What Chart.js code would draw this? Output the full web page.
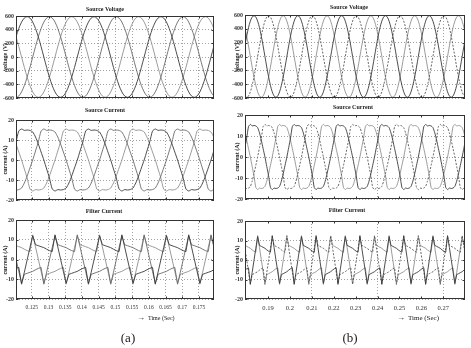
<!DOCTYPE html>
<html>
<head>
<meta charset="utf-8">
<script src="https://cdn.jsdelivr.net/npm/chart.js@4.4.1/dist/chart.umd.min.js"></script>
<style>
  html, body { margin: 0; padding: 0; background: #fff; }
  #fig { position: relative; width: 471px; height: 348px; overflow: hidden;
         font-family: "Liberation Serif", "DejaVu Serif", serif; color: #222; }
  #fig canvas { position: absolute; }
  .t  { position: absolute; font-size: 6px; line-height: 6px; font-weight: bold;
        white-space: nowrap; transform: translateX(-50%); }
  .yl { position: absolute; font-size: 6px; line-height: 6px; font-weight: bold; white-space: nowrap;
        transform: translate(-50%, -50%) rotate(-90deg); }
  .cap { position: absolute; font-size: 13px; line-height: 13px; transform: translateX(-50%); }
  .tm { position: absolute; white-space: nowrap; font-size: 6px; line-height: 8px; }
  .tm b { font-size: 8px; margin-right: 3px; }
</style>
</head>
<body>
<div id="fig">
  <canvas id="aV" width="218" height="94"  style="left:0px;top:10px"></canvas>
  <canvas id="aS" width="218" height="92"  style="left:0px;top:114px"></canvas>
  <canvas id="aF" width="218" height="101" style="left:0px;top:214px"></canvas>
  <canvas id="bV" width="238" height="95"  style="left:231px;top:9px"></canvas>
  <canvas id="bS" width="238" height="96"  style="left:231px;top:109px"></canvas>
  <canvas id="bF" width="238" height="100" style="left:231px;top:215px"></canvas>

  <div class="t" style="left:105px;top:6px">Source Voltage</div>
  <div class="t" style="left:105px;top:107px">Source Current</div>
  <div class="t" style="left:104px;top:208px">Filter Current</div>
  <div class="t" style="left:349px;top:4px">Source Voltage</div>
  <div class="t" style="left:353px;top:104px">Source Current</div>
  <div class="t" style="left:347px;top:207px">Filter Current</div>

  <div class="yl" style="left:5px;top:57px">voltage (V)</div>
  <div class="yl" style="left:5px;top:160px">current (A)</div>
  <div class="yl" style="left:5px;top:260px">current (A)</div>
  <div class="yl" style="left:237px;top:57px">voltage (V)</div>
  <div class="yl" style="left:237px;top:157px">current (A)</div>
  <div class="yl" style="left:237px;top:260px">current (A)</div>

  <div class="tm" style="left:137px;top:314px"><b>&rarr;</b>Time (Sec)</div>
  <div class="tm" style="left:397px;top:314px;font-size:7px"><b>&rarr;</b>Time (Sec)</div>

  <div class="cap" style="left:128px;top:331px">(a)</div>
  <div class="cap" style="left:350px;top:331px">(b)</div>
</div>

<script>
// waveforms sampled every 15 deg of a 50 Hz cycle, starting at 0.119437 s
const SAMPLE_START = 0.119437;
const SAMPLE_STEP = 0.02 / 24;

// source voltage (V), phases a, b, c
const vSa = [
  153,295,417,511,570,590,570,511,417,295,153,0,-153,-295,-417,-511,-570,-590,-570,-511,-417,-295,-153,0,
  153,295,417,511,570,590,570,511,417,295,153,0,-153,-295,-417,-511,-570,-590,-570,-511,-417,-295,-153,0,
  153,295,417,511,570,590,570,511,417,295,153,0,-153,-295,-417,-511,-570,-590,-570,-511,-417,-295,-153,0,
  153,295,417,511,570,590,570,511,417,295,153,0,-153,-295,-417,-511,-570,-590,-570,-511,-417,-295,-153,0,
  153,295,417,511,570,590,570,511,417,295,153,0,-153,-295,-417,-511,-570,-590,-570,-511,-417,-295,-153,0,
  153,295,417,511,570,590,570,511,417,295,153,0,-153,-295,-417,-511,-570,-590,-570,-511,-417,-295,-153,0,
  153,295,417,511,570,590,570,511,417,295,153,0,-153,-295,-417,-511,-570,-590,-570,-511,-417,-295,-153,0,
  153,295,417,511,570,590,570,511,417,295,153,0,-153,-295,-417,-511,-570,-590,-570,-511,-417,-295,-153,0,
  153,295
];
const vSb = [
  -570,-590,-570,-511,-417,-295,-153,0,153,295,417,511,570,590,570,511,417,295,153,0,-153,-295,-417,-511,
  -570,-590,-570,-511,-417,-295,-153,0,153,295,417,511,570,590,570,511,417,295,153,0,-153,-295,-417,-511,
  -570,-590,-570,-511,-417,-295,-153,0,153,295,417,511,570,590,570,511,417,295,153,0,-153,-295,-417,-511,
  -570,-590,-570,-511,-417,-295,-153,0,153,295,417,511,570,590,570,511,417,295,153,0,-153,-295,-417,-511,
  -570,-590,-570,-511,-417,-295,-153,0,153,295,417,511,570,590,570,511,417,295,153,0,-153,-295,-417,-511,
  -570,-590,-570,-511,-417,-295,-153,0,153,295,417,511,570,590,570,511,417,295,153,0,-153,-295,-417,-511,
  -570,-590,-570,-511,-417,-295,-153,0,153,295,417,511,570,590,570,511,417,295,153,0,-153,-295,-417,-511,
  -570,-590,-570,-511,-417,-295,-153,0,153,295,417,511,570,590,570,511,417,295,153,0,-153,-295,-417,-511,
  -570,-590
];
const vSc = [
  417,295,153,0,-153,-295,-417,-511,-570,-590,-570,-511,-417,-295,-153,0,153,295,417,511,570,590,570,511,
  417,295,153,0,-153,-295,-417,-511,-570,-590,-570,-511,-417,-295,-153,0,153,295,417,511,570,590,570,511,
  417,295,153,0,-153,-295,-417,-511,-570,-590,-570,-511,-417,-295,-153,0,153,295,417,511,570,590,570,511,
  417,295,153,0,-153,-295,-417,-511,-570,-590,-570,-511,-417,-295,-153,0,153,295,417,511,570,590,570,511,
  417,295,153,0,-153,-295,-417,-511,-570,-590,-570,-511,-417,-295,-153,0,153,295,417,511,570,590,570,511,
  417,295,153,0,-153,-295,-417,-511,-570,-590,-570,-511,-417,-295,-153,0,153,295,417,511,570,590,570,511,
  417,295,153,0,-153,-295,-417,-511,-570,-590,-570,-511,-417,-295,-153,0,153,295,417,511,570,590,570,511,
  417,295,153,0,-153,-295,-417,-511,-570,-590,-570,-511,-417,-295,-153,0,153,295,417,511,570,590,570,511,
  417,295
];

// source current (A)
const iSa = [
  4.5,9,14.5,15.5,14.8,15,14.8,14,11.5,8,4,0,-4.5,-9,-14.5,-15.5,-14.8,-15,-14.8,-14,-11.5,-8,-4,0,
  4.5,9,14.5,15.5,14.8,15,14.8,14,11.5,8,4,0,-4.5,-9,-14.5,-15.5,-14.8,-15,-14.8,-14,-11.5,-8,-4,0,
  4.5,9,14.5,15.5,14.8,15,14.8,14,11.5,8,4,0,-4.5,-9,-14.5,-15.5,-14.8,-15,-14.8,-14,-11.5,-8,-4,0,
  4.5,9,14.5,15.5,14.8,15,14.8,14,11.5,8,4,0,-4.5,-9,-14.5,-15.5,-14.8,-15,-14.8,-14,-11.5,-8,-4,0,
  4.5,9,14.5,15.5,14.8,15,14.8,14,11.5,8,4,0,-4.5,-9,-14.5,-15.5,-14.8,-15,-14.8,-14,-11.5,-8,-4,0,
  4.5,9,14.5,15.5,14.8,15,14.8,14,11.5,8,4,0,-4.5,-9,-14.5,-15.5,-14.8,-15,-14.8,-14,-11.5,-8,-4,0,
  4.5,9,14.5,15.5,14.8,15,14.8,14,11.5,8,4,0,-4.5,-9,-14.5,-15.5,-14.8,-15,-14.8,-14,-11.5,-8,-4,0,
  4.5,9,14.5,15.5,14.8,15,14.8,14,11.5,8,4,0,-4.5,-9,-14.5,-15.5,-14.8,-15,-14.8,-14,-11.5,-8,-4,0,
  4.5,9
];
const iSb = [
  -14.8,-15,-14.8,-14,-11.5,-8,-4,0,4.5,9,14.5,15.5,14.8,15,14.8,14,11.5,8,4,0,-4.5,-9,-14.5,-15.5,
  -14.8,-15,-14.8,-14,-11.5,-8,-4,0,4.5,9,14.5,15.5,14.8,15,14.8,14,11.5,8,4,0,-4.5,-9,-14.5,-15.5,
  -14.8,-15,-14.8,-14,-11.5,-8,-4,0,4.5,9,14.5,15.5,14.8,15,14.8,14,11.5,8,4,0,-4.5,-9,-14.5,-15.5,
  -14.8,-15,-14.8,-14,-11.5,-8,-4,0,4.5,9,14.5,15.5,14.8,15,14.8,14,11.5,8,4,0,-4.5,-9,-14.5,-15.5,
  -14.8,-15,-14.8,-14,-11.5,-8,-4,0,4.5,9,14.5,15.5,14.8,15,14.8,14,11.5,8,4,0,-4.5,-9,-14.5,-15.5,
  -14.8,-15,-14.8,-14,-11.5,-8,-4,0,4.5,9,14.5,15.5,14.8,15,14.8,14,11.5,8,4,0,-4.5,-9,-14.5,-15.5,
  -14.8,-15,-14.8,-14,-11.5,-8,-4,0,4.5,9,14.5,15.5,14.8,15,14.8,14,11.5,8,4,0,-4.5,-9,-14.5,-15.5,
  -14.8,-15,-14.8,-14,-11.5,-8,-4,0,4.5,9,14.5,15.5,14.8,15,14.8,14,11.5,8,4,0,-4.5,-9,-14.5,-15.5,
  -14.8,-15
];
const iSc = [
  11.5,8,4,0,-4.5,-9,-14.5,-15.5,-14.8,-15,-14.8,-14,-11.5,-8,-4,0,4.5,9,14.5,15.5,14.8,15,14.8,14,
  11.5,8,4,0,-4.5,-9,-14.5,-15.5,-14.8,-15,-14.8,-14,-11.5,-8,-4,0,4.5,9,14.5,15.5,14.8,15,14.8,14,
  11.5,8,4,0,-4.5,-9,-14.5,-15.5,-14.8,-15,-14.8,-14,-11.5,-8,-4,0,4.5,9,14.5,15.5,14.8,15,14.8,14,
  11.5,8,4,0,-4.5,-9,-14.5,-15.5,-14.8,-15,-14.8,-14,-11.5,-8,-4,0,4.5,9,14.5,15.5,14.8,15,14.8,14,
  11.5,8,4,0,-4.5,-9,-14.5,-15.5,-14.8,-15,-14.8,-14,-11.5,-8,-4,0,4.5,9,14.5,15.5,14.8,15,14.8,14,
  11.5,8,4,0,-4.5,-9,-14.5,-15.5,-14.8,-15,-14.8,-14,-11.5,-8,-4,0,4.5,9,14.5,15.5,14.8,15,14.8,14,
  11.5,8,4,0,-4.5,-9,-14.5,-15.5,-14.8,-15,-14.8,-14,-11.5,-8,-4,0,4.5,9,14.5,15.5,14.8,15,14.8,14,
  11.5,8,4,0,-4.5,-9,-14.5,-15.5,-14.8,-15,-14.8,-14,-11.5,-8,-4,0,4.5,9,14.5,15.5,14.8,15,14.8,14,
  11.5,8
];

// filter current (A)
const iFa = [
  -5.2,-4.5,-4,-12.5,-6.4,-0.2,6,12,7.5,7,6.5,6,5.2,4.5,4,12.5,6.4,0.2,-6,-12,-7.5,-7,-6.5,-6,
  -5.2,-4.5,-4,-12.5,-6.4,-0.2,6,12,7.5,7,6.5,6,5.2,4.5,4,12.5,6.4,0.2,-6,-12,-7.5,-7,-6.5,-6,
  -5.2,-4.5,-4,-12.5,-6.4,-0.2,6,12,7.5,7,6.5,6,5.2,4.5,4,12.5,6.4,0.2,-6,-12,-7.5,-7,-6.5,-6,
  -5.2,-4.5,-4,-12.5,-6.4,-0.2,6,12,7.5,7,6.5,6,5.2,4.5,4,12.5,6.4,0.2,-6,-12,-7.5,-7,-6.5,-6,
  -5.2,-4.5,-4,-12.5,-6.4,-0.2,6,12,7.5,7,6.5,6,5.2,4.5,4,12.5,6.4,0.2,-6,-12,-7.5,-7,-6.5,-6,
  -5.2,-4.5,-4,-12.5,-6.4,-0.2,6,12,7.5,7,6.5,6,5.2,4.5,4,12.5,6.4,0.2,-6,-12,-7.5,-7,-6.5,-6,
  -5.2,-4.5,-4,-12.5,-6.4,-0.2,6,12,7.5,7,6.5,6,5.2,4.5,4,12.5,6.4,0.2,-6,-12,-7.5,-7,-6.5,-6,
  -5.2,-4.5,-4,-12.5,-6.4,-0.2,6,12,7.5,7,6.5,6,5.2,4.5,4,12.5,6.4,0.2,-6,-12,-7.5,-7,-6.5,-6,
  -5.2,-4.5
];
const iFb = [
  6.4,0.2,-6,-12,-7.5,-7,-6.5,-6,-5.2,-4.5,-4,-12.5,-6.4,-0.2,6,12,7.5,7,6.5,6,5.2,4.5,4,12.5,
  6.4,0.2,-6,-12,-7.5,-7,-6.5,-6,-5.2,-4.5,-4,-12.5,-6.4,-0.2,6,12,7.5,7,6.5,6,5.2,4.5,4,12.5,
  6.4,0.2,-6,-12,-7.5,-7,-6.5,-6,-5.2,-4.5,-4,-12.5,-6.4,-0.2,6,12,7.5,7,6.5,6,5.2,4.5,4,12.5,
  6.4,0.2,-6,-12,-7.5,-7,-6.5,-6,-5.2,-4.5,-4,-12.5,-6.4,-0.2,6,12,7.5,7,6.5,6,5.2,4.5,4,12.5,
  6.4,0.2,-6,-12,-7.5,-7,-6.5,-6,-5.2,-4.5,-4,-12.5,-6.4,-0.2,6,12,7.5,7,6.5,6,5.2,4.5,4,12.5,
  6.4,0.2,-6,-12,-7.5,-7,-6.5,-6,-5.2,-4.5,-4,-12.5,-6.4,-0.2,6,12,7.5,7,6.5,6,5.2,4.5,4,12.5,
  6.4,0.2,-6,-12,-7.5,-7,-6.5,-6,-5.2,-4.5,-4,-12.5,-6.4,-0.2,6,12,7.5,7,6.5,6,5.2,4.5,4,12.5,
  6.4,0.2,-6,-12,-7.5,-7,-6.5,-6,-5.2,-4.5,-4,-12.5,-6.4,-0.2,6,12,7.5,7,6.5,6,5.2,4.5,4,12.5,
  6.4,0.2
];
const iFc = [
  7.5,7,6.5,6,5.2,4.5,4,12.5,6.4,0.2,-6,-12,-7.5,-7,-6.5,-6,-5.2,-4.5,-4,-12.5,-6.4,-0.2,6,12,
  7.5,7,6.5,6,5.2,4.5,4,12.5,6.4,0.2,-6,-12,-7.5,-7,-6.5,-6,-5.2,-4.5,-4,-12.5,-6.4,-0.2,6,12,
  7.5,7,6.5,6,5.2,4.5,4,12.5,6.4,0.2,-6,-12,-7.5,-7,-6.5,-6,-5.2,-4.5,-4,-12.5,-6.4,-0.2,6,12,
  7.5,7,6.5,6,5.2,4.5,4,12.5,6.4,0.2,-6,-12,-7.5,-7,-6.5,-6,-5.2,-4.5,-4,-12.5,-6.4,-0.2,6,12,
  7.5,7,6.5,6,5.2,4.5,4,12.5,6.4,0.2,-6,-12,-7.5,-7,-6.5,-6,-5.2,-4.5,-4,-12.5,-6.4,-0.2,6,12,
  7.5,7,6.5,6,5.2,4.5,4,12.5,6.4,0.2,-6,-12,-7.5,-7,-6.5,-6,-5.2,-4.5,-4,-12.5,-6.4,-0.2,6,12,
  7.5,7,6.5,6,5.2,4.5,4,12.5,6.4,0.2,-6,-12,-7.5,-7,-6.5,-6,-5.2,-4.5,-4,-12.5,-6.4,-0.2,6,12,
  7.5,7,6.5,6,5.2,4.5,4,12.5,6.4,0.2,-6,-12,-7.5,-7,-6.5,-6,-5.2,-4.5,-4,-12.5,-6.4,-0.2,6,12,
  7.5,7
];

// axes
const xTicksA = [0.125, 0.13, 0.135, 0.14, 0.145, 0.15, 0.155, 0.16, 0.165, 0.17, 0.175];
const xLabelsA = ['0.125','0.13','0.135','0.14','0.145','0.15','0.155','0.16','0.165','0.17','0.175'];
const xTicksB = [0.19, 0.2, 0.21, 0.22, 0.23, 0.24, 0.25, 0.26, 0.27];
const xLabelsB = ['0.19','0.2','0.21','0.22','0.23','0.24','0.25','0.26','0.27'];
const xGridB = [0.21, 0.24, 0.27];
const vTicks = [600, 400, 200, 0, -200, -400, -600];
const iTicks = [20, 10, 0, -10, -20];

const times = vSa.map((_, i) => SAMPLE_START + i * SAMPLE_STEP);
const pts = arr => arr.map((v, i) => ({ x: times[i], y: v }));

// MATLAB style box with inward ticks
const framePlugin = {
  id: 'frame',
  afterDatasetsDraw(chart) {
    const { ctx, chartArea: a, scales } = chart;
    ctx.save();
    ctx.strokeStyle = '#333';
    ctx.lineWidth = 1;
    ctx.strokeRect(Math.round(a.left) + 0.5, Math.round(a.top) + 0.5,
                   Math.round(a.right - a.left) - 1, Math.round(a.bottom - a.top) - 1);
    ctx.beginPath();
    scales.x.ticks.forEach(t => {
      const x = Math.round(scales.x.getPixelForValue(t.value)) + 0.5;
      ctx.moveTo(x, a.bottom); ctx.lineTo(x, a.bottom - 2.5);
      ctx.moveTo(x, a.top); ctx.lineTo(x, a.top + 2.5);
    });
    scales.y.ticks.forEach(t => {
      const y = Math.round(scales.y.getPixelForValue(t.value)) + 0.5;
      ctx.moveTo(a.left, y); ctx.lineTo(a.left + 2.5, y);
      ctx.moveTo(a.right, y); ctx.lineTo(a.right - 2.5, y);
    });
    ctx.stroke();
    ctx.restore();
  }
};

const font = { family: '"Liberation Serif", "DejaVu Serif", serif', size: 6, weight: 'bold' };

function makeChart(id, o) {
  const yVals = o.yTicks;
  new Chart(document.getElementById(id), {
    type: 'line',
    data: {
      datasets: o.series.map(s => ({
        data: pts(s.data),
        borderColor: s.color,
        borderWidth: 0.9,
        borderDash: s.dash || [],
        pointRadius: 0,
        tension: o.tension,
        fill: false
      }))
    },
    options: {
      responsive: false,
      animation: false,
      devicePixelRatio: 1,
      layout: { padding: { left: 0, right: 4, top: 6, bottom: o.showX ? 2 : 6 } },
      plugins: { legend: { display: false }, tooltip: { enabled: false } },
      scales: {
        x: {
          type: 'linear',
          min: o.xMin,
          max: o.xMax,
          afterBuildTicks: ax => { ax.ticks = o.xTicks.map(v => ({ value: v })); },
          afterFit: ax => { ax.height = o.showX ? 14 : 0; },
          ticks: {
            display: o.showX,
            autoSkip: false,
            maxRotation: 0,
            padding: 5,
            color: '#333',
            font: { ...font, size: o.xFont, weight: 'normal' },
            callback: (v, i) => o.xLabels[i]
          },
          grid: {
            drawTicks: false,
            lineWidth: 0.8,
            color: c => (!o.xGrid || o.xGrid.some(g => Math.abs(g - c.tick.value) < 1e-6)) ? '#8a8a8a' : 'rgba(0,0,0,0)'
          },
          border: { display: false, dash: [1, 2] }
        },
        y: {
          min: yVals[yVals.length - 1],
          max: yVals[0],
          afterBuildTicks: ax => { ax.ticks = yVals.map(v => ({ value: v })); },
          afterFit: ax => { ax.width = o.yWidth; },
          ticks: {
            autoSkip: false,
            padding: 2,
            color: '#333',
            font: font,
            callback: v => String(v)
          },
          grid: { drawTicks: false, lineWidth: 0.8, color: '#8a8a8a' },
          border: { display: false, dash: [1, 2] }
        }
      }
    },
    plugins: [framePlugin]
  });
}

const panelA = { xMin: 0.12027, xMax: 0.1795, xTicks: xTicksA, xLabels: xLabelsA, xGrid: null, yWidth: 16, xFont: 5.5 };
const panelB = { xMin: 0.1795, xMax: 0.2799, xTicks: xTicksB, xLabels: xLabelsB, xGrid: xGridB, yWidth: 14, xFont: 6.5 };

const styleA = [{ color: '#3a3a3a' }, { color: '#6a6a6a' }, { color: '#909090' }];
const styleB = [{ color: '#3a3a3a' }, { color: '#555', dash: [2, 1.5] }, { color: '#909090' }];

const withStyle = (arrs, st) => arrs.map((d, i) => ({ data: d, ...st[i] }));

makeChart('aV', { ...panelA, yTicks: vTicks, showX: false, tension: 0.35, series: withStyle([vSa, vSb, vSc], styleA) });
makeChart('aS', { ...panelA, yTicks: iTicks, showX: false, tension: 0.2, series: withStyle([iSa, iSb, iSc], styleA) });
makeChart('aF', { ...panelA, yTicks: iTicks, showX: true, tension: 0, series: withStyle([iFa, iFb, iFc], styleA) });
makeChart('bV', { ...panelB, yTicks: vTicks, showX: false, tension: 0.35, series: withStyle([vSa, vSb, vSc], styleB) });
makeChart('bS', { ...panelB, yTicks: iTicks, showX: false, tension: 0.2, series: withStyle([iSa, iSb, iSc], styleB) });
makeChart('bF', { ...panelB, yTicks: iTicks, showX: true, tension: 0, series: withStyle([iFa, iFb, iFc], styleB) });
</script>
</body>
</html>
